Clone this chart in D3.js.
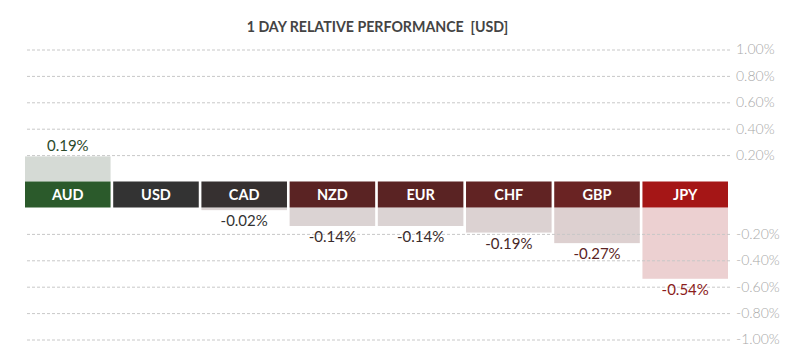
<!DOCTYPE html>
<html>
<head>
<meta charset="utf-8">
<script src="https://cdn.jsdelivr.net/npm/d3@7/dist/d3.min.js"></script>
<style>
  html, body { margin: 0; padding: 0; background: #fff; }
  svg { display: block; font-family: Lato, "Open Sans", sans-serif; }
</style>
</head>
<body>
<svg id="chart" width="800" height="360"></svg>
<script>
// ---- data ----
const title = "1 DAY RELATIVE PERFORMANCE  [USD]";
const currencies = ["AUD", "USD", "CAD", "NZD", "EUR", "CHF", "GBP", "JPY"];
const changes = [0.19, 0, -0.02, -0.14, -0.14, -0.19, -0.27, -0.54];
const posTicks = [0.2, 0.4, 0.6, 0.8, 1.0];
const negTicks = [-0.2, -0.4, -0.6, -0.8, -1.0];

// ---- styles ----
const headerColors = ["#2b5a2b", "#333333", "#363030", "#5a2323", "#5a2323", "#612323", "#6a2323", "#a51616"];
const barColors = ["#d5dad5", "#dddddd", "#dcd4d4", "#dbd3d3", "#dbd3d3", "#dcd2d2", "#ddd0d0", "#ecd0d1"];
const valueColors = ["#2b4a2b", "#333333", "#333333", "#3a2b2b", "#3a2b2b", "#472727", "#5a2424", "#8b1c1c"];

const svg = d3.select("#chart");
const left = 25, right = 728, gridRight = 730;
const bandTop = 181.5, bandBottom = 207.5;

const x = d3.scaleBand().domain(currencies).range([left, right]).paddingInner(0.03).paddingOuter(0);
const yPos = d3.scaleLinear().domain([0, 1]).range([bandTop, 49.5]);
const yNeg = d3.scaleLinear().domain([0, -1]).range([bandBottom, 339.5]);
const fmt = d => d3.format(".2f")(d).replace("\u2212", "-") + "%";
const color = (arr) => d3.scaleOrdinal().domain(currencies).range(arr);
const hc = color(headerColors), bc = color(barColors), vc = color(valueColors);

const data = currencies.map((c, i) => ({ c, v: changes[i] }));

// title
svg.append("text")
  .attr("x", (left + right) / 2 + 1).attr("y", 32)
  .attr("text-anchor", "middle")
  .attr("font-size", 14.2).attr("font-weight", 700)
  .attr("fill", "#444")
  .style("white-space", "pre")
  .text(title);

// bars
svg.append("g").selectAll("rect").data(data.filter(d => d.v !== 0)).join("rect")
  .attr("x", d => x(d.c))
  .attr("width", x.bandwidth())
  .attr("y", d => d.v > 0 ? yPos(d.v) : bandBottom)
  .attr("height", d => d.v > 0 ? bandTop - yPos(d.v) : yNeg(d.v) - bandBottom)
  .attr("fill", d => bc(d.c));

// gridlines + axes
function drawAxis(scale, ticks) {
  const g = svg.append("g").attr("transform", `translate(${gridRight},0)`)
    .call(d3.axisRight(scale).tickValues(ticks).tickFormat(fmt)
      .tickSizeInner(-(gridRight - left)).tickSizeOuter(0).tickPadding(6));
  g.select(".domain").remove();
  g.selectAll(".tick line").attr("stroke", "#c8c8c8").attr("stroke-dasharray", "3,2").attr("stroke-width", 1);
  g.selectAll(".tick text").attr("fill", "#a8a8a8").attr("font-size", 14).attr("font-weight", 300)
    .attr("font-family", "Lato, sans-serif");
}
drawAxis(yPos, posTicks);
drawAxis(yNeg, negTicks);

// header band
const hg = svg.append("g");
hg.selectAll("rect").data(data).join("rect")
  .attr("x", d => x(d.c)).attr("width", x.bandwidth())
  .attr("y", bandTop).attr("height", bandBottom - bandTop)
  .attr("fill", d => hc(d.c));
hg.selectAll("text").data(data).join("text")
  .attr("x", d => x(d.c) + x.bandwidth() / 2)
  .attr("y", bandTop + 18)
  .attr("text-anchor", "middle")
  .attr("font-size", 14.5).attr("font-weight", 700)
  .attr("fill", "#fff")
  .text(d => d.c);

// value labels
svg.append("g").selectAll("text").data(data.filter(d => d.v !== 0)).join("text")
  .attr("x", d => x(d.c) + x.bandwidth() / 2)
  .attr("y", d => d.v > 0 ? yPos(d.v) - 5 : yNeg(d.v) + 16)
  .attr("text-anchor", "middle")
  .attr("font-size", 15)
  .attr("fill", d => vc(d.c))
  .text(d => fmt(d.v));
</script>
</body>
</html>
